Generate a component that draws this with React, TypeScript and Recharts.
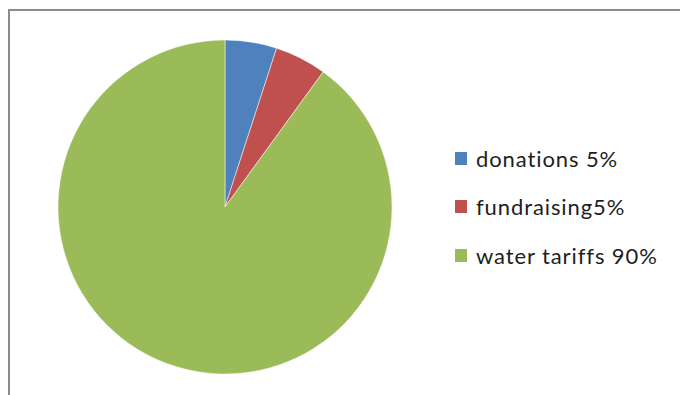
import { Cell, Legend, Pie, PieChart } from "recharts";

const CATEGORIES = ["donations", "fundraising", "water tariffs"];
const SHARES = [5, 5, 90];
const LEGEND_LABELS = ["donations 5%", "fundraising5%", "water tariffs 90%"];
const COLORS = ["#4F81BD", "#C0504D", "#9BBB59"];

const data = CATEGORIES.map((name, i) => ({ name, value: SHARES[i] }));

function LegendBox() {
  return (
    <div
      style={{
        fontFamily: "Lato, 'Open Sans', sans-serif",
        fontSize: 22,
        letterSpacing: 0.9,
        color: "#1e1e1e",
      }}
    >
      {LEGEND_LABELS.map((label, i) => (
        <div
          key={label}
          style={{ display: "flex", alignItems: "center", height: 48.5, whiteSpace: "nowrap" }}
        >
          <span
            style={{
              display: "inline-block",
              width: 12,
              height: 13,
              background: COLORS[i],
              marginRight: 9,
            }}
          />
          <span>{label}</span>
        </div>
      ))}
    </div>
  );
}

export default function App() {
  return (
    <div
      style={{
        position: "fixed",
        left: 0,
        top: 0,
        width: 680,
        height: 395,
        background: "#ffffff",
        overflow: "hidden",
      }}
    >
      <div
        style={{
          position: "absolute",
          left: 8,
          top: 9,
          width: 700,
          height: 420,
          border: "2px solid #8c8c8c",
        }}
      />
      <div style={{ position: "absolute", left: 0, top: 0 }}>
        <PieChart width={680} height={395} margin={{ top: 0, right: 0, bottom: 0, left: 0 }}>
          <Pie
            data={data}
            dataKey="value"
            nameKey="name"
            cx={225}
            cy={207}
            outerRadius={167}
            startAngle={90}
            endAngle={-270}
            stroke="#ffffff"
            strokeWidth={0.5}
            isAnimationActive={false}
          >
            {data.map((d, i) => (
              <Cell key={d.name} fill={COLORS[i]} />
            ))}
          </Pie>
          <Legend
            layout="vertical"
            verticalAlign="middle"
            align="right"
            content={() => <LegendBox />}
            wrapperStyle={{ left: 455, top: 134, width: 225 }}
          />
        </PieChart>
      </div>
    </div>
  );
}
